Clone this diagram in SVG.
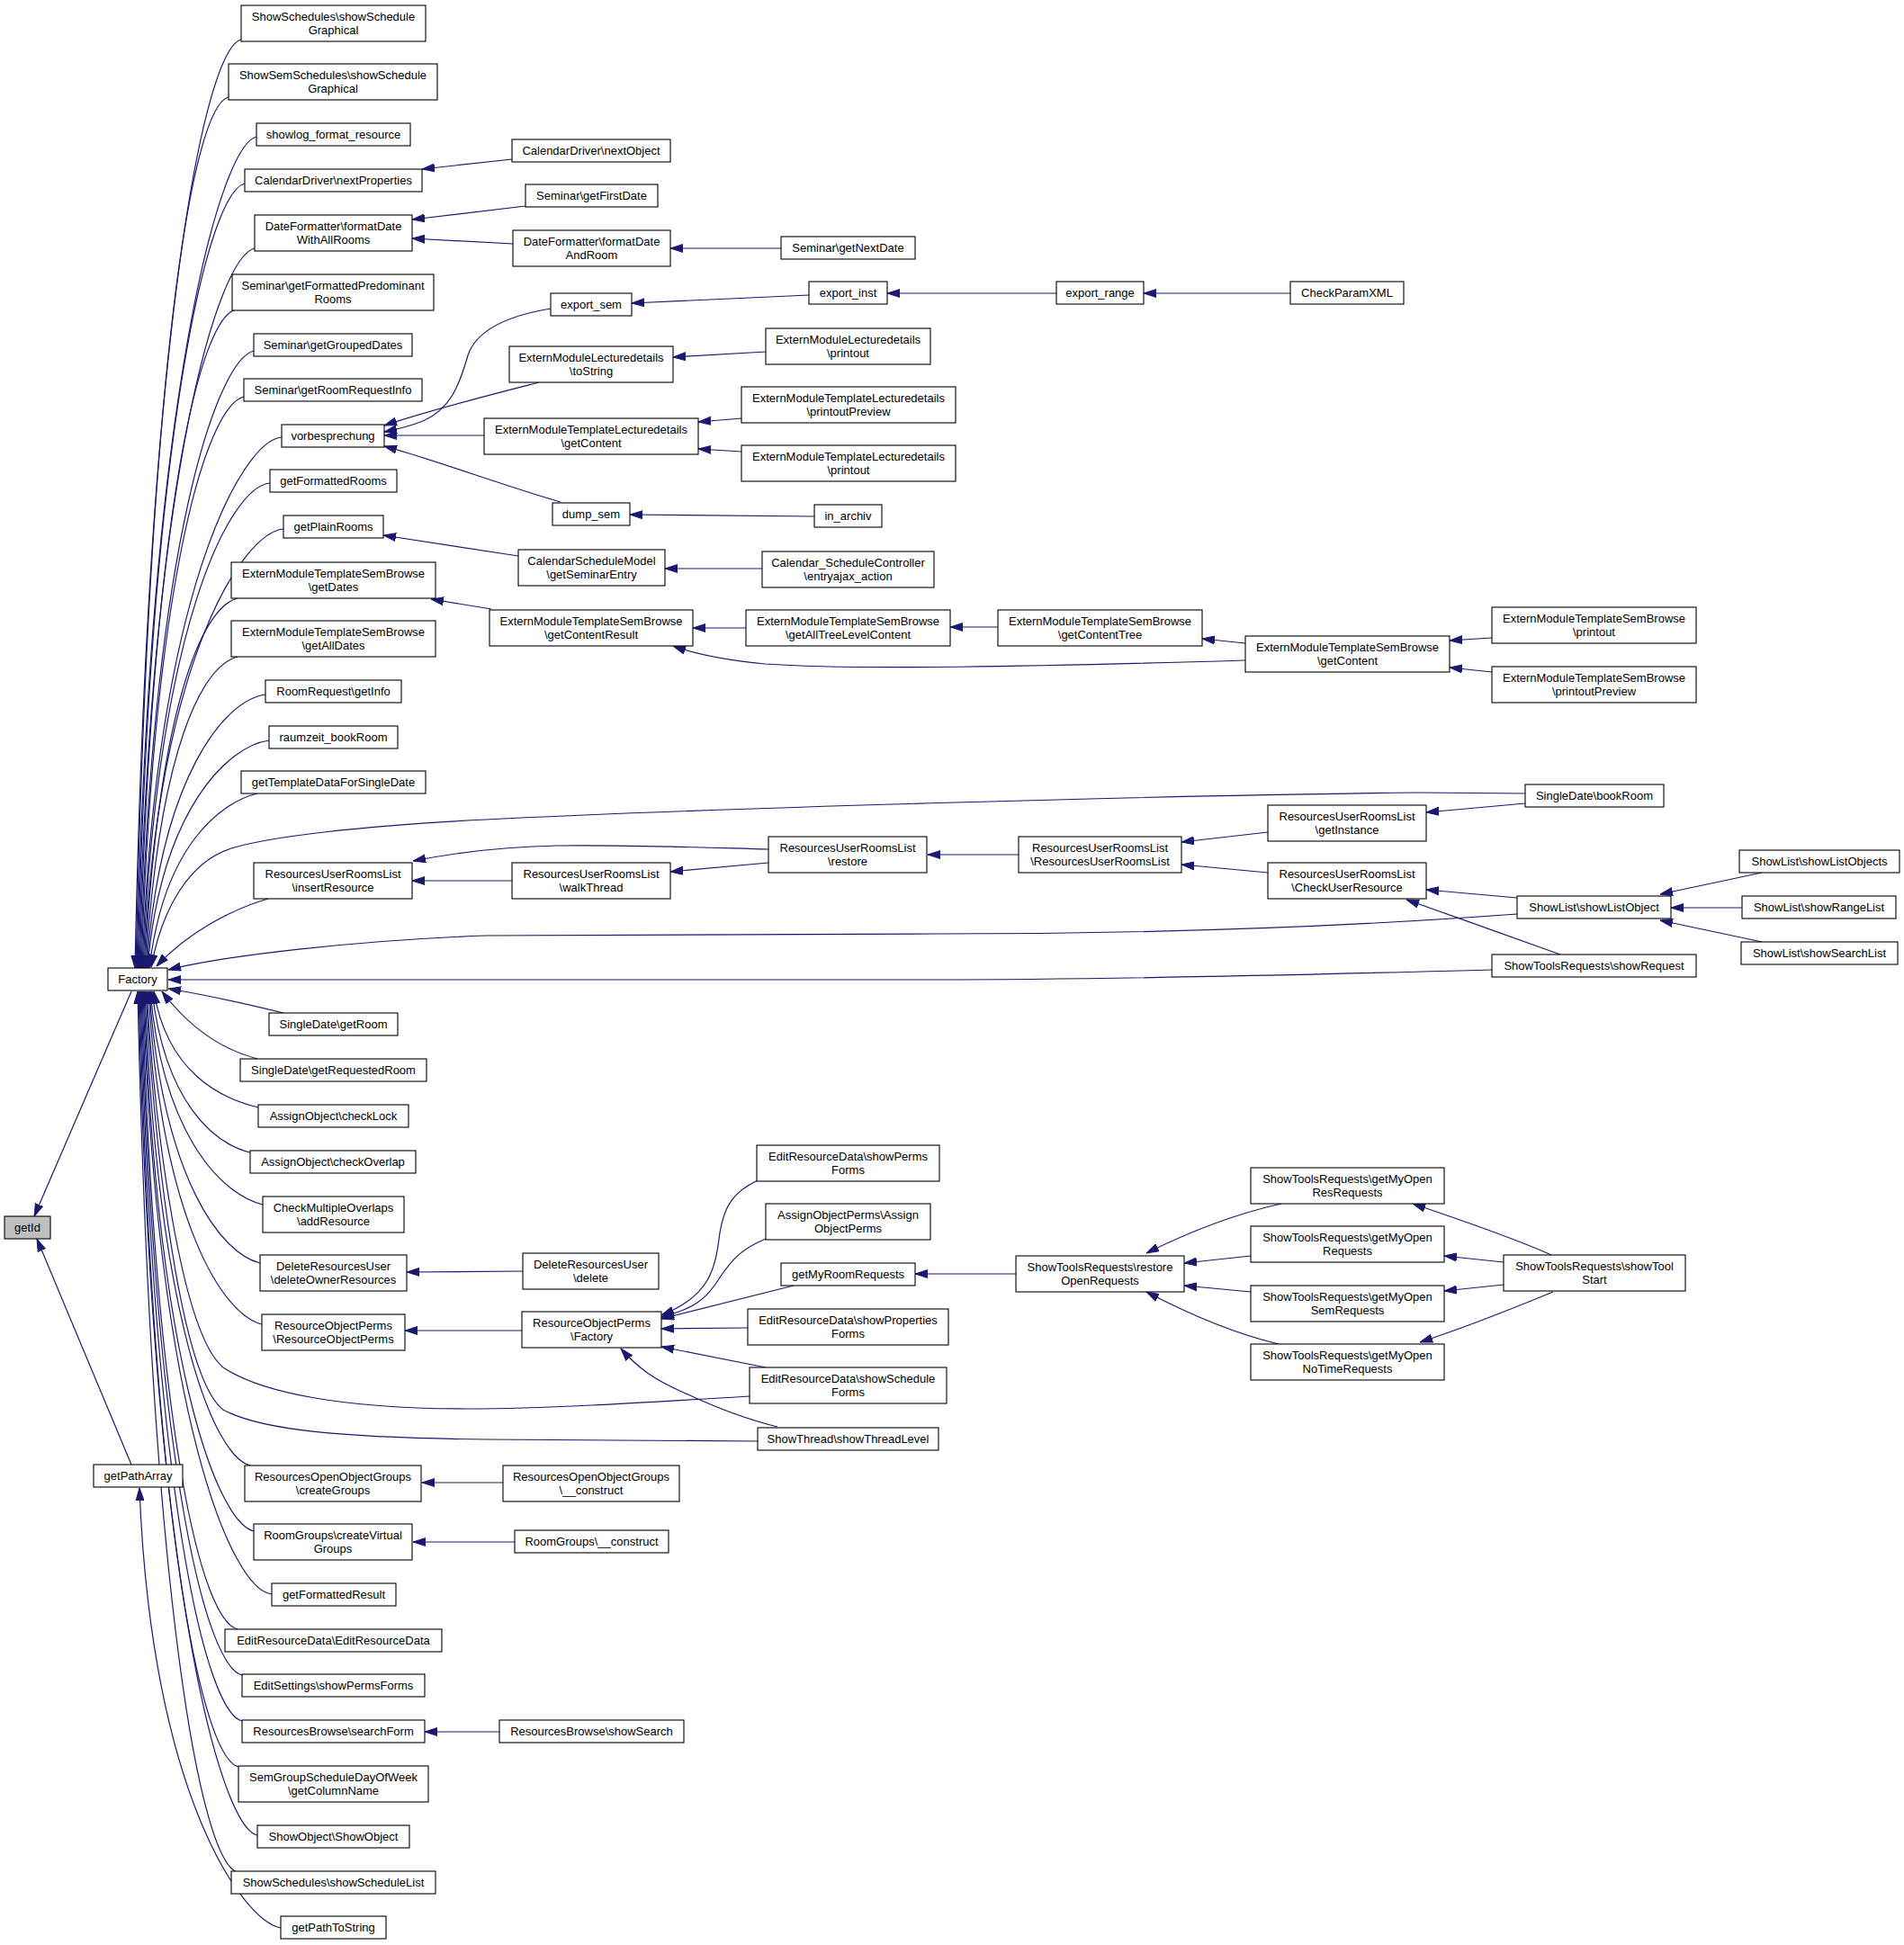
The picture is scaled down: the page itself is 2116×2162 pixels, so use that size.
<svg xmlns="http://www.w3.org/2000/svg" width="2116" height="2162" viewBox="0 0 2116 2162">
<style>
.n rect{fill:#fff;stroke:#000;stroke-width:1.1}
.n text{font-family:"Liberation Sans",Arial,sans-serif;font-size:13px;text-anchor:middle;fill:#000}
#n24 rect{fill:#bfbfbf}
.e path{fill:none;stroke:#191970;stroke-width:1.2;marker-end:url(#a)}
</style>
<defs>
<marker id="a" markerUnits="userSpaceOnUse" markerWidth="14" markerHeight="10" viewBox="0 0 14 10" refX="14" refY="5" orient="auto"><path d="M0,0.5 L14,5 L0,9.5 z" fill="#191970" stroke="#191970" stroke-width="1"/></marker>
</defs>
<rect width="2116" height="2162" fill="#fff"/>
<g id="edges" class="e">
<path d="M268,44 C228,54 165,354 150,1076"/>
<path d="M254,108 C214,118 166,398 151,1076"/>
<path d="M285,152 C245,162 167,429 152,1076"/>
<path d="M272,204 C232,214 168,466 153,1076"/>
<path d="M283,276 C243,286 169,516 154,1076"/>
<path d="M262,344 C222,354 170,564 155,1076"/>
<path d="M282,390 C242,400 171,596 156,1076"/>
<path d="M271,441 C231,451 172,632 157,1076"/>
<path d="M313,486 C268,490 173,663 158,1076"/>
<path d="M300,537 C255,541 174,699 159,1076"/>
<path d="M315,588 C270,592 175,734 160,1076"/>
<path d="M264,665 C224,675 176,788 161,1076"/>
<path d="M264,730 C224,740 177,834 162,1076"/>
<path d="M295,772 C250,778 178,863 163,1076"/>
<path d="M299,823 C254,829 179,899 164,1076"/>
<path d="M286,882 C245,892 182,940 166,1076"/>
<path d="M1695,882 L1576,881 C1300,884 800,898 540,911 C400,918 300,930 257,943 C210,958 180,1010 168,1075"/>
<path d="M298,999 C260,1010 210,1035 174,1074"/>
<path d="M1686,1016 C1500,1030 1300,1038 1040,1038 L540,1040 C400,1045 250,1062 187,1078"/>
<path d="M1658,1078 C1400,1085 1200,1089 1040,1089 L187,1089"/>
<path d="M315,1126 C270,1115 230,1106 187,1099"/>
<path d="M286,1177 C240,1165 205,1135 180,1102"/>
<path d="M287,1231 C245,1221 186,1192 171,1102"/>
<path d="M278,1281 C238,1271 184,1227 169,1102"/>
<path d="M292,1339 C250,1329 182,1268 167,1102"/>
<path d="M289,1404 C247,1394 181,1313 166,1102"/>
<path d="M291,1472 C249,1462 180,1361 165,1102"/>
<path d="M833,1552 C700,1560 600,1566 520,1566 C380,1566 290,1548 248,1520 C200,1480 172,1250 163,1102"/>
<path d="M842,1602 L540,1600 C380,1598 290,1590 248,1567 C200,1530 172,1280 162,1102"/>
<path d="M278,1629 C238,1619 176,1471 161,1102"/>
<path d="M282,1702 C242,1692 175,1522 160,1102"/>
<path d="M302,1772 C257,1768 174,1571 159,1102"/>
<path d="M264,1811 C224,1801 173,1598 158,1102"/>
<path d="M269,1862 C229,1852 172,1634 157,1102"/>
<path d="M269,1913 C229,1903 171,1670 156,1102"/>
<path d="M265,1964 C225,1954 170,1705 155,1102"/>
<path d="M286,2040 C244,2030 169,1759 154,1102"/>
<path d="M264,2081 C224,2071 168,1787 153,1102"/>
<path d="M312,2143 C270,2135 168,1996 155,1654"/>
<path d="M146,1102 L38,1352"/>
<path d="M146,1628 L41,1377"/>
<path d="M569,177 L469,188"/>
<path d="M584,229 L458,244"/>
<path d="M570,271 L458,265"/>
<path d="M868,276 L745,276"/>
<path d="M899,328 L702,337"/>
<path d="M1174,326 L986,326"/>
<path d="M1434,326 L1271,326"/>
<path d="M612,343 C570,350 530,365 520,395 C510,430 500,455 470,468 C455,474 442,477 427,480"/>
<path d="M599,425 C560,435 480,455 427,473"/>
<path d="M538,484 L427,484"/>
<path d="M623,558 C560,540 480,510 427,496"/>
<path d="M851,391 L748,397"/>
<path d="M824,465 L776,469"/>
<path d="M824,502 L776,499"/>
<path d="M905,574 L700,572"/>
<path d="M576,618 L426,595"/>
<path d="M847,632 L739,632"/>
<path d="M546,677 L479,666"/>
<path d="M829,698 L770,698"/>
<path d="M1109,697 L1056,697"/>
<path d="M1384,715 L1336,710"/>
<path d="M1384,734 C1150,741 950,745 850,738 C800,733 770,726 748,718"/>
<path d="M1658,709 L1611,712"/>
<path d="M1658,747 L1611,742"/>
<path d="M1695,893 L1585,903"/>
<path d="M1409,925 L1313,936"/>
<path d="M1409,970 L1313,961"/>
<path d="M1132,950 L1031,950"/>
<path d="M854,944 C780,942 700,939 620,940 C560,941 500,949 459,957"/>
<path d="M854,959 L745,969"/>
<path d="M569,979 L458,979"/>
<path d="M1686,998 L1585,989"/>
<path d="M1734,1061 C1680,1042 1620,1020 1563,1000"/>
<path d="M1958,970 L1845,994"/>
<path d="M1936,1009 L1857,1009"/>
<path d="M1958,1047 L1845,1023"/>
<path d="M581,1413 L452,1414"/>
<path d="M580,1479 L450,1479"/>
<path d="M842,1312 C815,1325 805,1340 800,1370 C795,1410 790,1440 735,1462"/>
<path d="M851,1377 C825,1388 815,1398 800,1420 C785,1445 770,1455 735,1464"/>
<path d="M882,1429 L735,1466"/>
<path d="M831,1476 L735,1477"/>
<path d="M851,1520 L735,1497"/>
<path d="M864,1586 C830,1578 790,1562 760,1548 C730,1535 710,1522 690,1499"/>
<path d="M1129,1416 L1017,1416"/>
<path d="M1424,1338 C1370,1350 1320,1370 1274,1393"/>
<path d="M1390,1396 L1316,1404"/>
<path d="M1390,1436 L1316,1429"/>
<path d="M1421,1494 C1370,1482 1320,1460 1274,1436"/>
<path d="M1724,1395 C1680,1375 1620,1355 1570,1338"/>
<path d="M1671,1403 L1605,1396"/>
<path d="M1671,1428 L1605,1435"/>
<path d="M1726,1436 C1680,1455 1630,1475 1578,1492"/>
<path d="M559,1648 L469,1648"/>
<path d="M572,1714 L459,1714"/>
<path d="M555,1925 L472,1925"/>
</g>
<g id="n1" class="n"><rect x="268" y="6" width="205" height="40"/><text x="370.5" y="22.5">ShowSchedules\showSchedule</text><text x="370.5" y="37.5">Graphical</text></g>
<g id="n2" class="n"><rect x="254" y="71" width="232" height="40"/><text x="370" y="87.5">ShowSemSchedules\showSchedule</text><text x="370" y="102.5">Graphical</text></g>
<g id="n3" class="n"><rect x="285" y="137" width="171" height="25"/><text x="370.5" y="154">showlog_format_resource</text></g>
<g id="n4" class="n"><rect x="272" y="188" width="197" height="25"/><text x="370.5" y="205">CalendarDriver\nextProperties</text></g>
<g id="n5" class="n"><rect x="283" y="239" width="175" height="40"/><text x="370.5" y="255.5">DateFormatter\formatDate</text><text x="370.5" y="270.5">WithAllRooms</text></g>
<g id="n6" class="n"><rect x="258" y="305" width="224" height="40"/><text x="370" y="321.5">Seminar\getFormattedPredominant</text><text x="370" y="336.5">Rooms</text></g>
<g id="n7" class="n"><rect x="282" y="371" width="176" height="25"/><text x="370" y="388">Seminar\getGroupedDates</text></g>
<g id="n8" class="n"><rect x="271" y="421" width="198" height="25"/><text x="370" y="438">Seminar\getRoomRequestInfo</text></g>
<g id="n9" class="n"><rect x="313" y="472" width="114" height="25"/><text x="370" y="489">vorbesprechung</text></g>
<g id="n10" class="n"><rect x="300" y="522" width="141" height="25"/><text x="370.5" y="539">getFormattedRooms</text></g>
<g id="n11" class="n"><rect x="315" y="573" width="111" height="25"/><text x="370.5" y="590">getPlainRooms</text></g>
<g id="n12" class="n"><rect x="257" y="625" width="227" height="40"/><text x="370.5" y="641.5">ExternModuleTemplateSemBrowse</text><text x="370.5" y="656.5">\getDates</text></g>
<g id="n13" class="n"><rect x="257" y="690" width="227" height="40"/><text x="370.5" y="706.5">ExternModuleTemplateSemBrowse</text><text x="370.5" y="721.5">\getAllDates</text></g>
<g id="n14" class="n"><rect x="295" y="756" width="151" height="25"/><text x="370.5" y="773">RoomRequest\getInfo</text></g>
<g id="n15" class="n"><rect x="299" y="807" width="143" height="25"/><text x="370.5" y="824">raumzeit_bookRoom</text></g>
<g id="n16" class="n"><rect x="268" y="857" width="205" height="25"/><text x="370.5" y="874">getTemplateDataForSingleDate</text></g>
<g id="n17" class="n"><rect x="282" y="959" width="176" height="40"/><text x="370" y="975.5">ResourcesUserRoomsList</text><text x="370" y="990.5">\insertResource</text></g>
<g id="n18" class="n"><rect x="120" y="1076" width="66" height="25"/><text x="153" y="1093">Factory</text></g>
<g id="n19" class="n"><rect x="299" y="1126" width="143" height="25"/><text x="370.5" y="1143">SingleDate\getRoom</text></g>
<g id="n20" class="n"><rect x="267" y="1177" width="207" height="25"/><text x="370.5" y="1194">SingleDate\getRequestedRoom</text></g>
<g id="n21" class="n"><rect x="287" y="1228" width="167" height="25"/><text x="370.5" y="1245">AssignObject\checkLock</text></g>
<g id="n22" class="n"><rect x="278" y="1279" width="184" height="25"/><text x="370" y="1296">AssignObject\checkOverlap</text></g>
<g id="n23" class="n"><rect x="292" y="1330" width="157" height="40"/><text x="370.5" y="1346.5">CheckMultipleOverlaps</text><text x="370.5" y="1361.5">\addResource</text></g>
<g id="n24" class="n"><rect x="5" y="1352" width="51" height="25"/><text x="30.5" y="1369">getId</text></g>
<g id="n25" class="n"><rect x="289" y="1395" width="163" height="40"/><text x="370.5" y="1411.5">DeleteResourcesUser</text><text x="370.5" y="1426.5">\deleteOwnerResources</text></g>
<g id="n26" class="n"><rect x="291" y="1461" width="159" height="40"/><text x="370.5" y="1477.5">ResourceObjectPerms</text><text x="370.5" y="1492.5">\ResourceObjectPerms</text></g>
<g id="n27" class="n"><rect x="104" y="1628" width="99" height="25"/><text x="153.5" y="1645">getPathArray</text></g>
<g id="n28" class="n"><rect x="272" y="1629" width="196" height="40"/><text x="370" y="1645.5">ResourcesOpenObjectGroups</text><text x="370" y="1660.5">\createGroups</text></g>
<g id="n29" class="n"><rect x="282" y="1694" width="176" height="40"/><text x="370" y="1710.5">RoomGroups\createVirtual</text><text x="370" y="1725.5">Groups</text></g>
<g id="n30" class="n"><rect x="302" y="1760" width="138" height="25"/><text x="371" y="1777">getFormattedResult</text></g>
<g id="n31" class="n"><rect x="250" y="1811" width="241" height="25"/><text x="370.5" y="1828">EditResourceData\EditResourceData</text></g>
<g id="n32" class="n"><rect x="269" y="1861" width="203" height="25"/><text x="370.5" y="1878">EditSettings\showPermsForms</text></g>
<g id="n33" class="n"><rect x="269" y="1912" width="203" height="25"/><text x="370.5" y="1929">ResourcesBrowse\searchForm</text></g>
<g id="n34" class="n"><rect x="265" y="1963" width="211" height="40"/><text x="370.5" y="1979.5">SemGroupScheduleDayOfWeek</text><text x="370.5" y="1994.5">\getColumnName</text></g>
<g id="n35" class="n"><rect x="286" y="2029" width="169" height="25"/><text x="370.5" y="2046">ShowObject\ShowObject</text></g>
<g id="n36" class="n"><rect x="257" y="2080" width="227" height="25"/><text x="370.5" y="2097">ShowSchedules\showScheduleList</text></g>
<g id="n37" class="n"><rect x="312" y="2130" width="117" height="25"/><text x="370.5" y="2147">getPathToString</text></g>
<g id="n38" class="n"><rect x="569" y="155" width="176" height="25"/><text x="657" y="172">CalendarDriver\nextObject</text></g>
<g id="n39" class="n"><rect x="584" y="205" width="147" height="25"/><text x="657.5" y="222">Seminar\getFirstDate</text></g>
<g id="n40" class="n"><rect x="570" y="256" width="175" height="40"/><text x="657.5" y="272.5">DateFormatter\formatDate</text><text x="657.5" y="287.5">AndRoom</text></g>
<g id="n41" class="n"><rect x="868" y="263" width="149" height="25"/><text x="942.5" y="280">Seminar\getNextDate</text></g>
<g id="n42" class="n"><rect x="612" y="326" width="90" height="25"/><text x="657" y="343">export_sem</text></g>
<g id="n43" class="n"><rect x="899" y="313" width="87" height="25"/><text x="942.5" y="330">export_inst</text></g>
<g id="n44" class="n"><rect x="1174" y="313" width="97" height="25"/><text x="1222.5" y="330">export_range</text></g>
<g id="n45" class="n"><rect x="1434" y="313" width="126" height="25"/><text x="1497" y="330">CheckParamXML</text></g>
<g id="n46" class="n"><rect x="566" y="385" width="182" height="40"/><text x="657" y="401.5">ExternModuleLecturedetails</text><text x="657" y="416.5">\toString</text></g>
<g id="n47" class="n"><rect x="851" y="365" width="183" height="40"/><text x="942.5" y="381.5">ExternModuleLecturedetails</text><text x="942.5" y="396.5">\printout</text></g>
<g id="n48" class="n"><rect x="538" y="465" width="238" height="40"/><text x="657" y="481.5">ExternModuleTemplateLecturedetails</text><text x="657" y="496.5">\getContent</text></g>
<g id="n49" class="n"><rect x="824" y="430" width="238" height="40"/><text x="943" y="446.5">ExternModuleTemplateLecturedetails</text><text x="943" y="461.5">\printoutPreview</text></g>
<g id="n50" class="n"><rect x="824" y="495" width="238" height="40"/><text x="943" y="511.5">ExternModuleTemplateLecturedetails</text><text x="943" y="526.5">\printout</text></g>
<g id="n51" class="n"><rect x="614" y="559" width="86" height="25"/><text x="657" y="576">dump_sem</text></g>
<g id="n52" class="n"><rect x="905" y="561" width="75" height="25"/><text x="942.5" y="578">in_archiv</text></g>
<g id="n53" class="n"><rect x="576" y="611" width="163" height="40"/><text x="657.5" y="627.5">CalendarScheduleModel</text><text x="657.5" y="642.5">\getSeminarEntry</text></g>
<g id="n54" class="n"><rect x="847" y="613" width="191" height="40"/><text x="942.5" y="629.5">Calendar_ScheduleController</text><text x="942.5" y="644.5">\entryajax_action</text></g>
<g id="n55" class="n"><rect x="544" y="678" width="226" height="40"/><text x="657" y="694.5">ExternModuleTemplateSemBrowse</text><text x="657" y="709.5">\getContentResult</text></g>
<g id="n56" class="n"><rect x="829" y="678" width="227" height="40"/><text x="942.5" y="694.5">ExternModuleTemplateSemBrowse</text><text x="942.5" y="709.5">\getAllTreeLevelContent</text></g>
<g id="n57" class="n"><rect x="1109" y="678" width="227" height="40"/><text x="1222.5" y="694.5">ExternModuleTemplateSemBrowse</text><text x="1222.5" y="709.5">\getContentTree</text></g>
<g id="n58" class="n"><rect x="1384" y="707" width="227" height="40"/><text x="1497.5" y="723.5">ExternModuleTemplateSemBrowse</text><text x="1497.5" y="738.5">\getContent</text></g>
<g id="n59" class="n"><rect x="1658" y="675" width="227" height="40"/><text x="1771.5" y="691.5">ExternModuleTemplateSemBrowse</text><text x="1771.5" y="706.5">\printout</text></g>
<g id="n60" class="n"><rect x="1658" y="741" width="227" height="40"/><text x="1771.5" y="757.5">ExternModuleTemplateSemBrowse</text><text x="1771.5" y="772.5">\printoutPreview</text></g>
<g id="n61" class="n"><rect x="1695" y="872" width="154" height="25"/><text x="1772" y="889">SingleDate\bookRoom</text></g>
<g id="n62" class="n"><rect x="1409" y="895" width="176" height="40"/><text x="1497" y="911.5">ResourcesUserRoomsList</text><text x="1497" y="926.5">\getInstance</text></g>
<g id="n63" class="n"><rect x="1409" y="959" width="176" height="40"/><text x="1497" y="975.5">ResourcesUserRoomsList</text><text x="1497" y="990.5">\CheckUserResource</text></g>
<g id="n64" class="n"><rect x="1132" y="930" width="181" height="40"/><text x="1222.5" y="946.5">ResourcesUserRoomsList</text><text x="1222.5" y="961.5">\ResourcesUserRoomsList</text></g>
<g id="n65" class="n"><rect x="854" y="930" width="176" height="40"/><text x="942" y="946.5">ResourcesUserRoomsList</text><text x="942" y="961.5">\restore</text></g>
<g id="n66" class="n"><rect x="569" y="959" width="176" height="40"/><text x="657" y="975.5">ResourcesUserRoomsList</text><text x="657" y="990.5">\walkThread</text></g>
<g id="n67" class="n"><rect x="1933" y="945" width="178" height="25"/><text x="2022" y="962">ShowList\showListObjects</text></g>
<g id="n68" class="n"><rect x="1686" y="996" width="171" height="25"/><text x="1771.5" y="1013">ShowList\showListObject</text></g>
<g id="n69" class="n"><rect x="1936" y="996" width="171" height="25"/><text x="2021.5" y="1013">ShowList\showRangeList</text></g>
<g id="n70" class="n"><rect x="1935" y="1047" width="174" height="25"/><text x="2022" y="1064">ShowList\showSearchList</text></g>
<g id="n71" class="n"><rect x="1658" y="1061" width="227" height="25"/><text x="1771.5" y="1078">ShowToolsRequests\showRequest</text></g>
<g id="n72" class="n"><rect x="1671" y="1395" width="202" height="40"/><text x="1772" y="1411.5">ShowToolsRequests\showTool</text><text x="1772" y="1426.5">Start</text></g>
<g id="n73" class="n"><rect x="841" y="1273" width="203" height="40"/><text x="942.5" y="1289.5">EditResourceData\showPerms</text><text x="942.5" y="1304.5">Forms</text></g>
<g id="n74" class="n"><rect x="851" y="1338" width="183" height="40"/><text x="942.5" y="1354.5">AssignObjectPerms\Assign</text><text x="942.5" y="1369.5">ObjectPerms</text></g>
<g id="n75" class="n"><rect x="868" y="1404" width="149" height="25"/><text x="942.5" y="1421">getMyRoomRequests</text></g>
<g id="n76" class="n"><rect x="581" y="1393" width="151" height="40"/><text x="656.5" y="1409.5">DeleteResourcesUser</text><text x="656.5" y="1424.5">\delete</text></g>
<g id="n77" class="n"><rect x="1129" y="1396" width="187" height="40"/><text x="1222.5" y="1412.5">ShowToolsRequests\restore</text><text x="1222.5" y="1427.5">OpenRequests</text></g>
<g id="n78" class="n"><rect x="1390" y="1298" width="215" height="40"/><text x="1497.5" y="1314.5">ShowToolsRequests\getMyOpen</text><text x="1497.5" y="1329.5">ResRequests</text></g>
<g id="n79" class="n"><rect x="1390" y="1363" width="215" height="40"/><text x="1497.5" y="1379.5">ShowToolsRequests\getMyOpen</text><text x="1497.5" y="1394.5">Requests</text></g>
<g id="n80" class="n"><rect x="1390" y="1429" width="215" height="40"/><text x="1497.5" y="1445.5">ShowToolsRequests\getMyOpen</text><text x="1497.5" y="1460.5">SemRequests</text></g>
<g id="n81" class="n"><rect x="1390" y="1494" width="215" height="40"/><text x="1497.5" y="1510.5">ShowToolsRequests\getMyOpen</text><text x="1497.5" y="1525.5">NoTimeRequests</text></g>
<g id="n82" class="n"><rect x="580" y="1458" width="155" height="40"/><text x="657.5" y="1474.5">ResourceObjectPerms</text><text x="657.5" y="1489.5">\Factory</text></g>
<g id="n83" class="n"><rect x="831" y="1455" width="223" height="40"/><text x="942.5" y="1471.5">EditResourceData\showProperties</text><text x="942.5" y="1486.5">Forms</text></g>
<g id="n84" class="n"><rect x="833" y="1520" width="219" height="40"/><text x="942.5" y="1536.5">EditResourceData\showSchedule</text><text x="942.5" y="1551.5">Forms</text></g>
<g id="n85" class="n"><rect x="842" y="1587" width="201" height="25"/><text x="942.5" y="1604">ShowThread\showThreadLevel</text></g>
<g id="n86" class="n"><rect x="559" y="1629" width="196" height="40"/><text x="657" y="1645.5">ResourcesOpenObjectGroups</text><text x="657" y="1660.5">\__construct</text></g>
<g id="n87" class="n"><rect x="572" y="1701" width="171" height="25"/><text x="657.5" y="1718">RoomGroups\__construct</text></g>
<g id="n88" class="n"><rect x="555" y="1912" width="205" height="25"/><text x="657.5" y="1929">ResourcesBrowse\showSearch</text></g>
</svg>
